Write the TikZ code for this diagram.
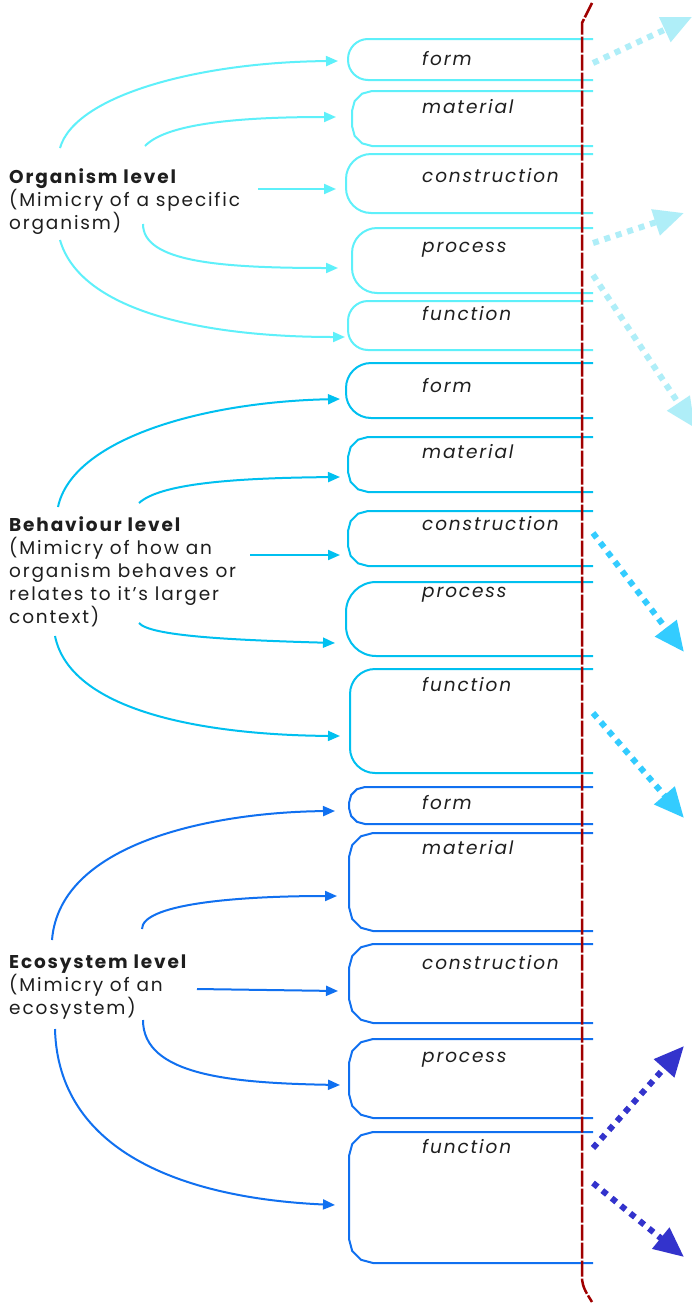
\documentclass[tikz,border=0pt]{standalone}
\usepackage{fontspec}
\setmainfont{Poppins}[LetterSpace=10]
\usetikzlibrary{arrows.meta}
\definecolor{orgc}{RGB}{94,240,250}
\definecolor{behc}{RGB}{0,192,240}
\definecolor{ecoc}{RGB}{16,112,240}
\definecolor{orgarr}{RGB}{175,238,248}
\definecolor{beharr}{RGB}{51,204,255}
\definecolor{ecoarr}{RGB}{51,51,204}
\definecolor{axisred}{RGB}{160,0,0}
\definecolor{txt}{RGB}{30,30,30}
\newcommand\myrbox[5]{%
  \draw[#1,boxline,rounded corners=#5pt] (593,#3) -- (#2,#3) -- (#2,#4) -- (593,#4);}
\newcommand\mycbox[5]{%
  \draw[#1,boxline] (593,#3) -- ({#2+#5},#3) -- ({#2+0.5*#5},{#3+0.134*#5})
    -- ({#2+0.134*#5},{#3+0.5*#5}) -- (#2,{#3+#5}) -- (#2,{#4-#5})
    -- ({#2+0.134*#5},{#4-0.5*#5}) -- ({#2+0.5*#5},{#4-0.134*#5})
    -- ({#2+#5},#4) -- (593,#4);}
\begin{document}
\begin{tikzpicture}[x=1pt,y=-1pt,
  boxline/.style={line width=2pt,line join=round},
  conn/.style={line width=2pt,-{Triangle[length=12pt,width=10pt]}},
  dotarr/.style={line width=6pt,dash pattern=on 6pt off 6pt,-{Triangle[length=30pt,width=26pt]}},
  lbl/.style={font=\fontsize{18.5}{22}\selectfont\itshape,inner sep=0pt,anchor=base west,text=txt},
  lvl/.style={font=\fontsize{18.5}{23}\selectfont,inner sep=0pt,anchor=north west,align=left,text=txt}]
\useasboundingbox (0,0) rectangle (691,1304);
\fill[white] (0,0) rectangle (691,1304);

% ---------- boxes ----------
\myrbox{orgc}{348}{39}{80}{20}
\mycbox{orgc}{352}{91}{146}{20}
\myrbox{orgc}{346}{154}{213}{25}
\myrbox{orgc}{352}{228}{293}{25}
\myrbox{orgc}{348}{301}{350}{20}

\myrbox{behc}{346}{363}{418}{25}
\mycbox{behc}{348}{437}{492}{20}
\mycbox{behc}{348}{511}{566}{20}
\myrbox{behc}{346}{582}{656}{30}
\myrbox{behc}{350}{669}{773}{25}

\mycbox{ecoc}{349}{787}{824}{16}
\mycbox{ecoc}{349}{833}{931}{24}
\mycbox{ecoc}{349}{944}{1023}{24}
\mycbox{ecoc}{349}{1039}{1118}{24}
\mycbox{ecoc}{349}{1132}{1263}{24}

% ---------- box labels ----------
\node[lbl] (oform) at (422,65) {form};
\node[lbl] (omat) at (422,113) {material};
\node[lbl] (ocon) at (422,182) {construction};
\node[lbl] (oproc) at (422,252) {process};
\node[lbl] (ofun) at (422,320) {function};

\node[lbl] (bform) at (422,392) {form};
\node[lbl] (bmat) at (422,458) {material};
\node[lbl] (bcon) at (422,530) {construction};
\node[lbl] (bproc) at (422,597) {process};
\node[lbl] (bfun) at (422,691) {function};

\node[lbl] (eform) at (422,809) {form};
\node[lbl] (emat) at (422,854) {material};
\node[lbl] (econ) at (422,969) {construction};
\node[lbl] (eproc) at (422,1062) {process};
\node[lbl] (efun) at (422,1153) {function};

% ---------- level labels ----------
\node[lvl] (olev) at (9,168) {\textbf{Organism level}\\(Mimicry of a specific\\organism)};
\node[lvl] (blev) at (9,516) {\textbf{Behaviour level}\\(Mimicry of how an\\organism behaves or\\relates to it’s larger\\context)};
\node[lvl] (elev) at (9,955) {\textbf{Ecosystem level}\\(Mimicry of an\\ecosystem)};

% ---------- left connectors ----------
\coordinate (o1s) at (60,148);  \coordinate (o1e) at (338,61);
\coordinate (o2s) at (145,146); \coordinate (o2e) at (336,117);
\coordinate (o3s) at (258,189); \coordinate (o3e) at (336,189);
\coordinate (o4s) at (143,224); \coordinate (o4e) at (338,268);
\coordinate (o5s) at (60,240);  \coordinate (o5e) at (345,337);
\draw[conn,orgc] (o1s) .. controls (75,95) and (200,62) .. (o1e);
\draw[conn,orgc] (o2s) .. controls (165,125) and (230,117) .. (o2e);
\draw[conn,orgc] (o3s) -- (o3e);
\draw[conn,orgc] (o4s) .. controls (143,262) and (220,268) .. (o4e);
\draw[conn,orgc] (o5s) .. controls (80,310) and (200,337) .. (o5e);

\coordinate (b1s) at (58,507);  \coordinate (b1e) at (340,399);
\coordinate (b2s) at (139,503); \coordinate (b2e) at (340,477);
\coordinate (b3s) at (250,555); \coordinate (b3e) at (340,555);
\coordinate (b4s) at (139,623); \coordinate (b4e) at (335,643);
\coordinate (b5s) at (55,636);  \coordinate (b5e) at (340,736);
\draw[conn,behc] (b1s) .. controls (72,440) and (200,402) .. (b1e);
\draw[conn,behc] (b2s) .. controls (160,484) and (230,478) .. (b2e);
\draw[conn,behc] (b3s) -- (b3e);
\draw[conn,behc] (b4s) .. controls (150,636) and (230,640) .. (b4e);
\draw[conn,behc] (b5s) .. controls (70,710) and (200,735) .. (b5e);

\coordinate (e1s) at (52,940);  \coordinate (e1e) at (335,811);
\coordinate (e2s) at (142,929); \coordinate (e2e) at (337,896);
\coordinate (e3s) at (197,989); \coordinate (e3e) at (338,991);
\coordinate (e4s) at (143,1020); \coordinate (e4e) at (340,1085);
\coordinate (e5s) at (55,1029); \coordinate (e5e) at (335,1205);
\draw[conn,ecoc] (e1s) .. controls (60,840) and (220,812) .. (e1e);
\draw[conn,ecoc] (e2s) .. controls (142,905) and (230,896) .. (e2e);
\draw[conn,ecoc] (e3s) -- (e3e);
\draw[conn,ecoc] (e4s) .. controls (143,1075) and (230,1083) .. (e4e);
\draw[conn,ecoc] (e5s) .. controls (58,1150) and (180,1198) .. (e5e);

% ---------- right dotted arrows ----------
\coordinate (r1s) at (593,63);   \coordinate (r1e) at (692,17);
\coordinate (r2s) at (593,243);  \coordinate (r2e) at (684,213);
\coordinate (r3s) at (593,275);  \coordinate (r3e) at (695,428);
\coordinate (r4s) at (593,533);  \coordinate (r4e) at (684,652);
\coordinate (r5s) at (593,713);  \coordinate (r5e) at (684,818);
\coordinate (r6s) at (593,1148); \coordinate (r6e) at (684,1046);
\coordinate (r7s) at (593,1183); \coordinate (r7e) at (684,1257);
\draw[dotarr,orgarr] (r1s) -- (r1e);
\draw[dotarr,orgarr] (r2s) -- (r2e);
\draw[dotarr,orgarr] (r3s) -- (r3e);
\draw[dotarr,beharr] (r4s) -- (r4e);
\draw[dotarr,beharr] (r5s) -- (r5e);
\draw[dotarr,ecoarr] (r6s) -- (r6e);
\draw[dotarr,ecoarr] (r7s) -- (r7e);

% ---------- dashed axis ----------
\coordinate (axtop) at (592,3);
\coordinate (axbot) at (592,1302);
\draw[axisred,line width=2.5pt,dash pattern=on 16pt off 2pt]
  (axtop) -- (582,23) -- (582,1277) .. controls (582,1288) and (588,1295) .. (axbot);
\end{tikzpicture}
\end{document}
